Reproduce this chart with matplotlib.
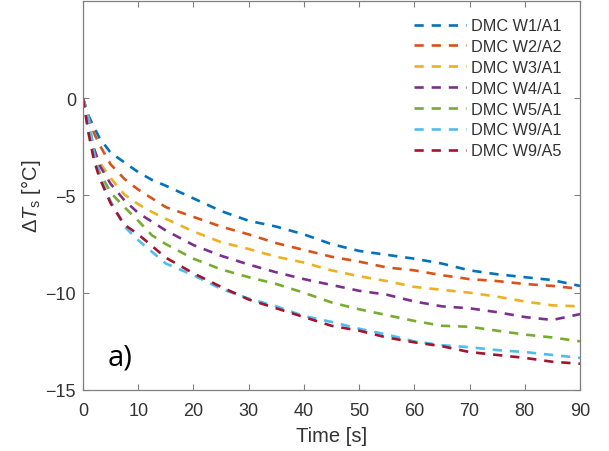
import matplotlib
matplotlib.use("Agg")
import matplotlib.pyplot as plt

plt.rcParams["font.family"] = ["Liberation Sans", "DejaVu Sans"]
plt.rcParams["mathtext.fontset"] = "custom"
plt.rcParams["mathtext.rm"] = "Liberation Sans"
plt.rcParams["mathtext.it"] = "Liberation Sans:italic"

# Time grid [s] and surface temperature change [°C] for each sample
time_s = [0, 1, 2, 3, 5, 7.5, 10, 12.5, 15, 20, 25, 30, 35, 40, 45, 50,
          55, 60, 65, 70, 75, 80, 85, 90]

w1_a1 = [0, -0.9, -1.5, -2.05, -2.8, -3.3, -3.8, -4.2, -4.5, -5.15, -5.8, -6.3,
         -6.6, -7.0, -7.5, -7.85, -8.05, -8.25, -8.5, -8.85, -9.05, -9.2, -9.35, -9.65]
w2_a2 = [0, -1.0, -1.8, -2.4, -3.4, -4.15, -4.7, -5.15, -5.6, -6.1, -6.6, -7.0,
         -7.45, -7.8, -8.15, -8.4, -8.7, -8.85, -9.1, -9.3, -9.4, -9.55, -9.65, -9.8]
w3_a1 = [0, -1.4, -2.6, -3.3, -4.1, -4.95, -5.45, -5.85, -6.2, -6.85, -7.4, -7.75,
         -8.15, -8.45, -8.85, -9.15, -9.4, -9.7, -9.85, -10.0, -10.2, -10.45, -10.65, -10.7]
w4_a1 = [0, -1.4, -2.6, -3.45, -4.4, -5.25, -5.9, -6.35, -6.8, -7.55, -8.1, -8.55,
         -8.95, -9.3, -9.6, -9.9, -10.1, -10.45, -10.7, -10.8, -11.0, -11.25, -11.4, -11.1]
w5_a1 = [0, -1.7, -3.0, -3.8, -4.85, -5.6, -6.3, -7.05, -7.5, -8.25, -8.8, -9.2,
         -9.55, -10.0, -10.5, -10.85, -11.15, -11.45, -11.7, -11.75, -11.95, -12.15, -12.3, -12.5]
w9_a1 = [0, -1.0, -2.8, -4.0, -5.3, -6.6, -7.3, -7.9, -8.5, -9.1, -9.8, -10.3,
         -10.7, -11.2, -11.5, -11.85, -12.15, -12.5, -12.7, -12.8, -12.95, -13.05, -13.2, -13.35]
w9_a5 = [0, -1.8, -3.2, -4.1, -5.4, -6.5, -7.0, -7.6, -8.2, -9.0, -9.7, -10.35,
         -10.8, -11.25, -11.7, -11.95, -12.3, -12.55, -12.75, -13.05, -13.2, -13.35, -13.55, -13.65]

labels = ["DMC W1/A1", "DMC W2/A2", "DMC W3/A1", "DMC W4/A1",
          "DMC W5/A1", "DMC W9/A1", "DMC W9/A5"]
series = [w1_a1, w2_a2, w3_a1, w4_a1, w5_a1, w9_a1, w9_a5]

# MATLAB default line colours
colors = ["#0072BD", "#D95319", "#EDB120", "#7E2F8E",
          "#77AC30", "#4DBEEE", "#A2142F"]

fig = plt.figure(figsize=(6.09, 4.52), dpi=100)
ax = fig.add_axes([0.1363, 0.135, 0.8161, 0.8606])

for y, lab, c in zip(series, labels, colors):
    ax.plot(time_s, y, color=c, linewidth=1.9, dashes=(3.5, 3),
            label=lab, solid_capstyle="butt", dash_capstyle="butt")

ax.set_xlim(0, 90)
ax.set_ylim(-15, 5)
ax.set_xticks(range(0, 91, 10))
ax.set_yticks([-15, -10, -5, 0])

axis_grey = "#333333"
for sp in ax.spines.values():
    sp.set_color("#808080")
    sp.set_linewidth(0.9)
ax.tick_params(direction="in", top=True, right=True, length=4, width=0.8,
               color="#808080", labelsize=13, labelcolor=axis_grey)
ax.tick_params(axis="x", pad=9)
ax.tick_params(axis="y", pad=5)

ax.set_xlabel("Time [s]", fontsize=14.5, color=axis_grey, labelpad=5)
ax.set_ylabel(r"$\Delta\mathit{T}_{\rm s}$ [°C]", fontsize=14.5,
              color=axis_grey, labelpad=2)

ax.text(6.7, -13.3, "a)", fontsize=21, ha="center", va="center",
        family=["Open Sans", "DejaVu Sans"], color="black")

leg = ax.legend(loc="upper right", bbox_to_anchor=(0.985, 0.985), frameon=False,
                fontsize=11.7, handlelength=3.2, handletextpad=0.3,
                labelspacing=0.36, borderaxespad=0.3)
for t in leg.get_texts():
    t.set_color(axis_grey)

fig.savefig("out.png", dpi=100)
